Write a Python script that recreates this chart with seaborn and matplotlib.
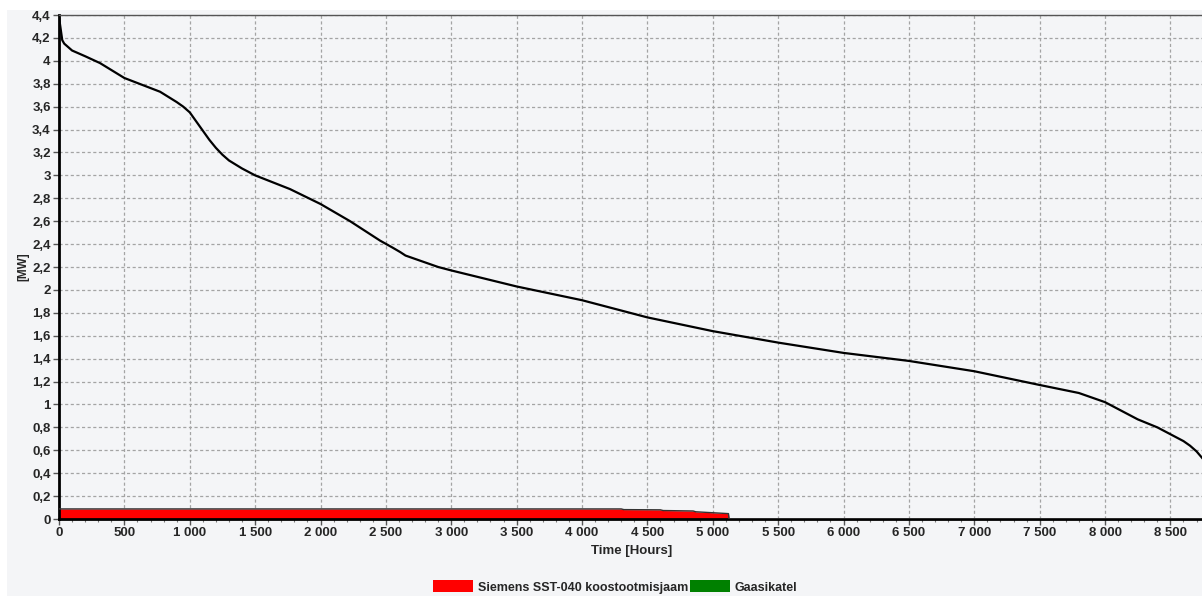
import matplotlib
matplotlib.use("Agg")
import matplotlib.pyplot as plt
import matplotlib.ticker as mticker
from matplotlib.patches import Patch, Rectangle
import seaborn as sns
import pandas as pd

# ---- data ----
hours = [0, 10, 25, 40, 100, 200, 314, 500, 773, 900, 950, 1000, 1050, 1100, 1150,
         1200, 1250, 1300, 1400, 1500, 1767, 2000, 2226, 2456, 2550, 2610, 2650, 2700,
         2800, 2900, 3000, 3500, 4000, 4500, 5000, 5500, 6000, 6500, 7000, 7500,
         7800, 8000, 8250, 8400, 8500, 8600, 8650, 8700, 8760]
load_mw = [4.38, 4.30, 4.18, 4.15, 4.09, 4.04, 3.98, 3.85, 3.73, 3.64, 3.60, 3.55,
           3.47, 3.39, 3.31, 3.24, 3.18, 3.13, 3.06, 3.00, 2.88, 2.75, 2.60, 2.43,
           2.37, 2.33, 2.30, 2.28, 2.24, 2.20, 2.17, 2.03, 1.91, 1.76, 1.64, 1.54,
           1.45, 1.38, 1.29, 1.17, 1.10, 1.02, 0.87, 0.80, 0.74, 0.68, 0.64, 0.59, 0.51]

chp_hours = [0, 4300, 4320, 4600, 4620, 4850, 4870, 5120, 5125, 8760]
chp_mw = [0.088, 0.088, 0.082, 0.080, 0.074, 0.070, 0.063, 0.047, 0.0, 0.0]

series_names = ["Siemens SST-040 koostootmisjaam", "Gaasikatel"]
series_colors = ["#ff0000", "#008000"]

x_ticks = list(range(0, 9000, 500))
y_ticks = [round(0.2 * i, 1) for i in range(23)]

# ---- style ----
sns.set_style("ticks")
plt.rcParams["font.family"] = ["Liberation Sans", "DejaVu Sans"]
plt.rcParams["font.weight"] = "bold"

bg = "#f4f5f7"
fig = plt.figure(figsize=(12.02, 5.96), dpi=100, facecolor=bg)
fig.patches.append(Rectangle((0, 1 - 10 / 596), 1, 10 / 596, transform=fig.transFigure,
                             facecolor="white", edgecolor="none", zorder=0))
fig.patches.append(Rectangle((0, 0), 7 / 1202, 1, transform=fig.transFigure,
                             facecolor="white", edgecolor="none", zorder=0))
ax = fig.add_axes([59 / 1202, 1 - 519 / 596, 1 - 59 / 1202 + 0.002, (519 - 15) / 596])
ax.set_facecolor(bg)

df = pd.DataFrame({"hours": hours, "mw": load_mw})
ax.fill_between(chp_hours, chp_mw, 0, color=series_colors[0], linewidth=0, zorder=2)
ax.plot(chp_hours, chp_mw, color="#333333", linewidth=1.0, zorder=3)
sns.lineplot(data=df, x="hours", y="mw", color="black", linewidth=1.6, ax=ax, zorder=4)

ax.set_xlim(0, 8760)
ax.set_ylim(0, 4.4)
ax.set_xticks(x_ticks)
ax.set_yticks(y_ticks)
ax.xaxis.set_minor_locator(mticker.MultipleLocator(100))


def fmt_x(v, pos):
    return f"{int(round(v)):,}".replace(",", " ")


def fmt_y(v, pos):
    s = f"{v:.1f}"
    if s.endswith(".0"):
        s = s[:-2]
    return s.replace(".", ",")


ax.xaxis.set_major_formatter(mticker.FuncFormatter(fmt_x))
ax.yaxis.set_major_formatter(mticker.FuncFormatter(fmt_y))
ax.tick_params(axis="both", which="major", labelsize=9.5, length=4, width=1, color="#555555", pad=2)
ax.tick_params(axis="x", which="minor", length=2, width=0.8, color="#777777")
for lbl in ax.get_xticklabels() + ax.get_yticklabels():
    lbl.set_fontweight("bold")

ax.grid(True, which="major", color="#a4a4a4", linestyle=(0, (2.5, 2)), linewidth=0.9, zorder=1)
ax.set_axisbelow(True)

for side in ["left", "bottom"]:
    ax.spines[side].set_color("black")
    ax.spines[side].set_linewidth(2)
ax.spines["top"].set_color("#555555")
ax.spines["top"].set_linewidth(1)
ax.spines["right"].set_visible(False)

ax.set_xlabel("Time [Hours]", fontsize=9.5, fontweight="bold", labelpad=4)
ax.set_ylabel("[MW]", fontsize=8.5, fontweight="bold", labelpad=2)

handles = [Patch(facecolor=c, edgecolor="none", label=n) for n, c in zip(series_names, series_colors)]
fig.legend(handles=handles, loc="center", bbox_to_anchor=(615 / 1202, 1 - 587 / 596),
           ncol=2, frameon=False, handlelength=3.2, handleheight=1.1, handletextpad=0.4,
           columnspacing=0.15, prop={"size": 9, "weight": "bold"})

fig.savefig("out.png", dpi=100, facecolor=bg)
